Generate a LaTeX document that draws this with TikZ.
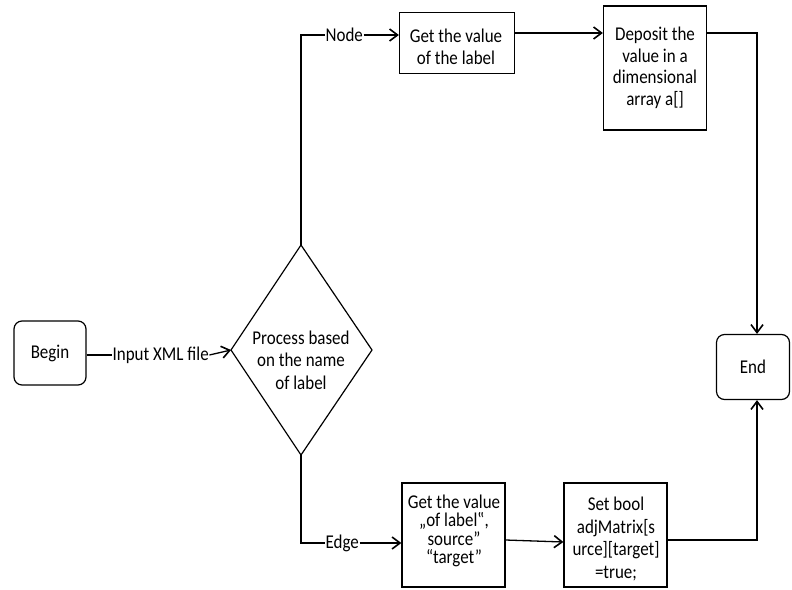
\documentclass[tikz,border=0pt]{standalone}
\usepackage{fontspec}
\setmainfont{Carlito}[FakeStretch=0.87]
\usetikzlibrary{arrows.meta}
\begin{document}
\begin{tikzpicture}[x=1pt,y=-1pt, line width=1.3pt,
  box/.style={draw, line width=1.2pt, align=center, inner sep=0pt, font=\fontsize{19.5}{22.5}\selectfont},
  rbox/.style={box, rounded corners=8pt},
  lbl/.style={inner sep=0pt, fill=white, font=\fontsize{19.5}{22}\selectfont},
  txt/.style={inner sep=0pt, align=center, font=\fontsize{19.5}{22.5}\selectfont},
  arr/.style={-{Straight Barb[length=8pt,width=12pt,line width=1.6pt]}}]
\useasboundingbox (0,0) rectangle (792,589);
% nodes
\node[rbox, minimum width=72pt, minimum height=64pt] (begin) at (50,353) {Begin};
\node[rbox, minimum width=73pt, minimum height=65pt] (end) at (753,367) {End};
\node[box, minimum width=115pt, minimum height=61pt] (get1) at (457,43) {};
\node[txt] (get1txt) at (456,47) {Get the value\\of the label};
\node[box, minimum width=103pt, minimum height=124pt, font=\fontsize{19.5}{21.5}\selectfont] (dep) at (655,68) {Deposit the\\value in a\\dimensional\\array a[]};
\node[box, minimum width=103pt, minimum height=104pt] (get2) at (453.5,535) {};
\node[txt, font=\fontsize{19.5}{18.5}\selectfont] (get2txt) at (454,531) {Get the value\\„of label‟,\\source”\\“target”};
\node[box, minimum width=103pt, minimum height=104pt] (setb) at (615.5,535) {};
\node[txt] (settxt) at (616,539) {Set bool\\adjMatrix[s\\urce][target]\\=true;};
% diamond
\coordinate (dl) at (231,350);
\coordinate (dt) at (301,245);
\coordinate (dr) at (372,350);
\coordinate (db) at (301,455);
\draw[line width=1.2pt] (dl) -- (dt) -- (dr) -- (db) -- cycle;
\node[txt] (proc) at (301,360) {Process based\\on the name\\of label};
% labels
\node[lbl, anchor=west] (input) at (112,355) {Input XML file};
\node[lbl, anchor=west] (nodel) at (325,35) {Node};
\node[lbl, anchor=west] (edgel) at (325,543) {Edge};
% helper coordinates
\coordinate (ctop) at (301,35);
\coordinate (cbot) at (301,543);
\coordinate (r1) at (757,33);
\coordinate (r2) at (757,540);
% connectors
\draw (begin.east |- input.west) -- (input.west);
\draw[arr] (input.east) -- (dl);
\draw (dt) -- (ctop) -- (nodel.west);
\draw[arr] (nodel.east) -- (nodel.east -| get1.west);
\draw[arr] (get1.east |- r1) -- (dep.west |- r1);
\draw[arr] (dep.east |- r1) -- (r1) -- (r1 |- end.north);
\draw (db) -- (cbot) -- (edgel.west);
\draw[arr] (edgel.east) -- (edgel.east -| get2.west);
\draw[arr] (get2.east |- 0,540) -- (setb.west |- 0,542);
\draw[arr] (setb.east |- r2) -- (r2) -- (r2 |- end.south);
\end{tikzpicture}
\end{document}
